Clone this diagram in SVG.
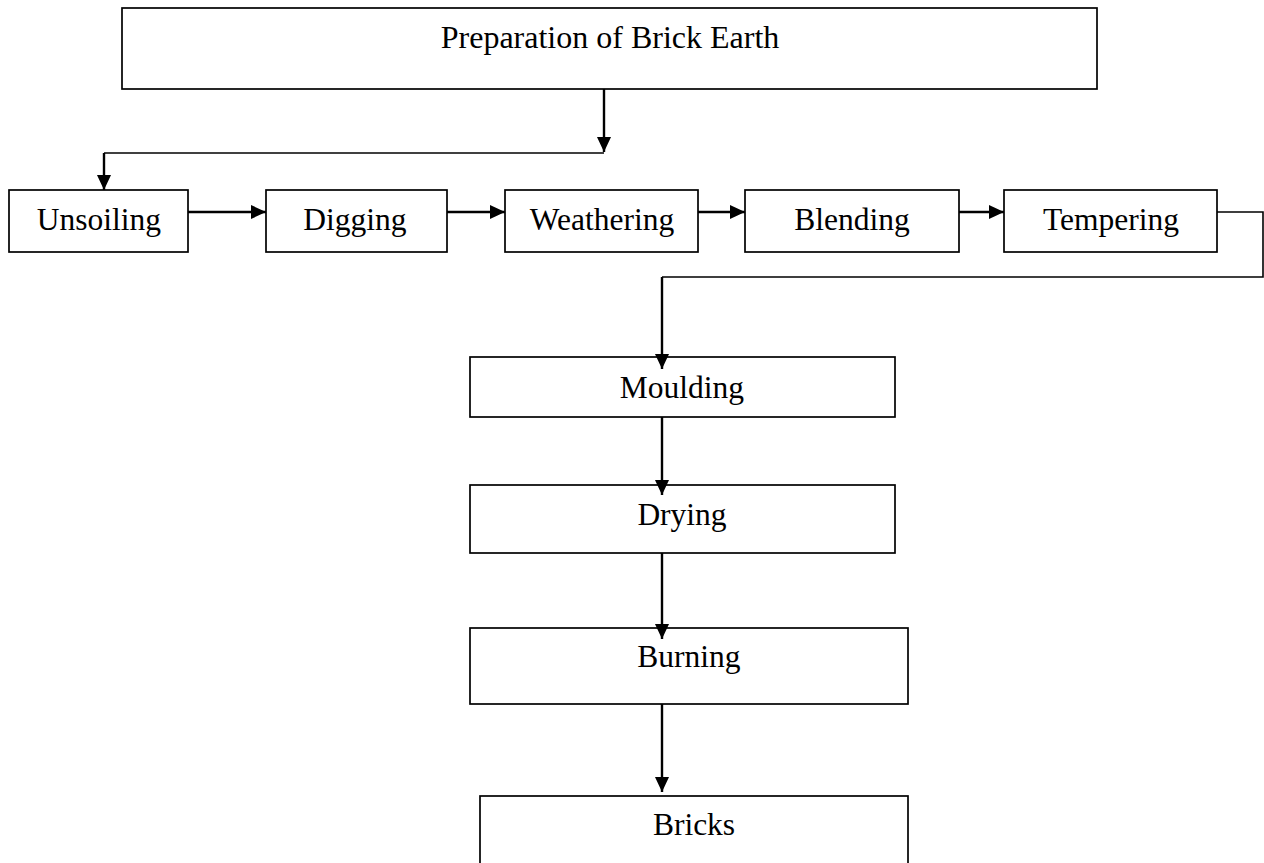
<svg xmlns="http://www.w3.org/2000/svg" width="1264" height="863" viewBox="0 0 1264 863">
  <style>
    .box { fill: #ffffff; stroke: #000000; stroke-width: 1.7; }
    .label { font-family: "Liberation Serif", "Times New Roman", serif; font-size: 31.5px; fill: #000000; text-anchor: middle; }
    .link { fill: none; stroke: #000000; stroke-width: 2.4; }
    .thin { fill: none; stroke: #000000; stroke-width: 1.6; }
  </style>
  <defs>
    <marker id="head" viewBox="0 0 15 14" refX="15" refY="7" markerWidth="15" markerHeight="14" markerUnits="userSpaceOnUse" orient="auto">
      <path d="M0,0 L15,7 L0,14 Z" fill="#000000"/>
    </marker>
  </defs>

  <rect width="1264" height="863" fill="#ffffff"/>

  <!-- process steps -->
  <g id="prep">
    <rect class="box" x="122" y="8" width="975" height="81"/>
    <text class="label" x="610" y="48" style="font-size:32px">Preparation of Brick Earth</text>
  </g>
  <g id="unsoiling">
    <rect class="box" x="9" y="190" width="179" height="62"/>
    <text class="label" x="99" y="230">Unsoiling</text>
  </g>
  <g id="digging">
    <rect class="box" x="266" y="190" width="181" height="62"/>
    <text class="label" x="355" y="230">Digging</text>
  </g>
  <g id="weathering">
    <rect class="box" x="505" y="190" width="193" height="62"/>
    <text class="label" x="602" y="230">Weathering</text>
  </g>
  <g id="blending">
    <rect class="box" x="745" y="190" width="214" height="62"/>
    <text class="label" x="852" y="230">Blending</text>
  </g>
  <g id="tempering">
    <rect class="box" x="1004" y="190" width="213" height="62"/>
    <text class="label" x="1111" y="230">Tempering</text>
  </g>
  <g id="moulding">
    <rect class="box" x="470" y="357" width="425" height="60"/>
    <text class="label" x="682" y="398">Moulding</text>
  </g>
  <g id="drying">
    <rect class="box" x="470" y="485" width="425" height="68"/>
    <text class="label" x="682" y="525">Drying</text>
  </g>
  <g id="burning">
    <rect class="box" x="470" y="628" width="438" height="76"/>
    <text class="label" x="689" y="667">Burning</text>
  </g>
  <g id="bricks">
    <rect class="box" x="480" y="796" width="428" height="80"/>
    <text class="label" x="694" y="835">Bricks</text>
  </g>

  <!-- connectors -->
  <g id="connectors">
    <line class="link" x1="604" y1="89" x2="604" y2="152" marker-end="url(#head)"/>
    <polyline class="thin" points="604,153 104,153"/>
    <line class="link" x1="104" y1="153" x2="104" y2="190" marker-end="url(#head)"/>
    <line class="link" x1="188" y1="212" x2="266" y2="212" marker-end="url(#head)"/>
    <line class="link" x1="447" y1="212" x2="505" y2="212" marker-end="url(#head)"/>
    <line class="link" x1="698" y1="212" x2="745" y2="212" marker-end="url(#head)"/>
    <line class="link" x1="959" y1="212" x2="1004" y2="212" marker-end="url(#head)"/>
    <polyline class="thin" points="1217,212 1263,212 1263,277 662,277"/>
    <line class="link" x1="662" y1="277" x2="662" y2="369" marker-end="url(#head)"/>
    <line class="link" x1="662" y1="417" x2="662" y2="495" marker-end="url(#head)"/>
    <line class="link" x1="662" y1="553" x2="662" y2="639" marker-end="url(#head)"/>
    <line class="link" x1="662" y1="704" x2="662" y2="792" marker-end="url(#head)"/>
  </g>
</svg>
